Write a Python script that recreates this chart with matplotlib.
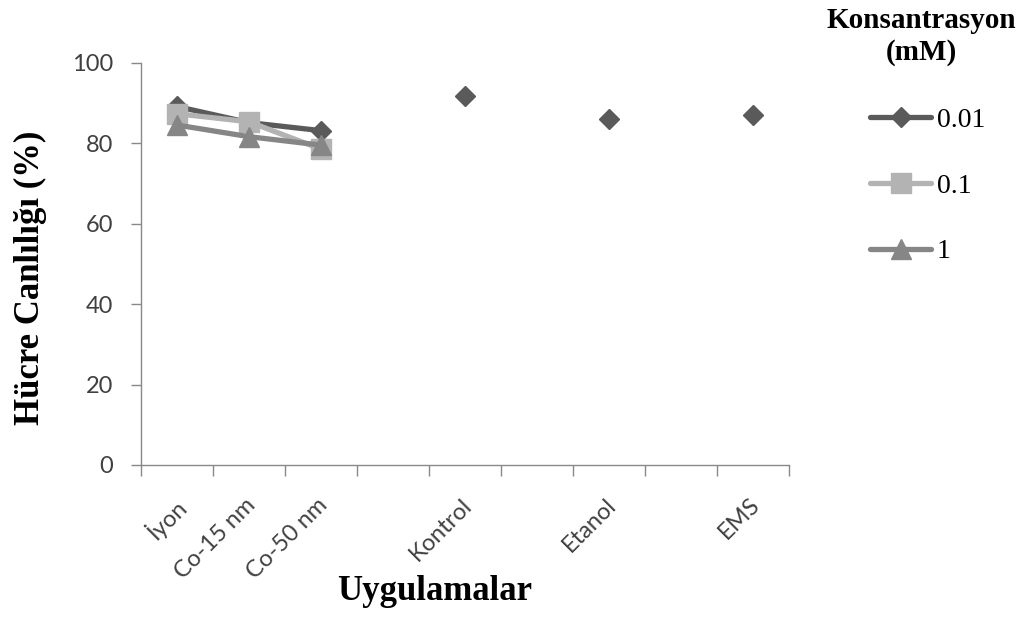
import numpy as np
import matplotlib
matplotlib.use("Agg")
import matplotlib.pyplot as plt
from matplotlib.transforms import ScaledTranslation

# data
categories = ['İyon', 'Co-15 nm', 'Co-50 nm', '', 'Kontrol', '', 'Etanol', '', 'EMS']
nan = np.nan
conc_001 = [89.1, 85.1, 83.1, nan, 91.8, nan, 86.0, nan, 87.0]
conc_01 = [87.3, 85.3, 78.5, nan, nan, nan, nan, nan, nan]
conc_1 = [84.5, 81.6, 79.5, nan, nan, nan, nan, nan, nan]
series_names = ['0.01', '0.1', '1']

tick_font = 'Lato'
serif = 'Liberation Serif'
axis_gray = '#898989'
text_gray = '#404040'

fig = plt.figure(figsize=(10.32, 6.19), dpi=100)
ax = fig.add_axes([0.1366, 0.2488, 0.628, 0.650])

x = np.arange(len(categories))
l1, = ax.plot(x, conc_001, color='#5a5a5a', lw=3.8, marker='D', ms=10.5,
              label=series_names[0], solid_capstyle='round')
l2, = ax.plot(x, conc_01, color='#b3b3b3', lw=3.8, marker='s', ms=15,
              label=series_names[1], solid_capstyle='round')
l3, = ax.plot(x, conc_1, color='#868686', lw=3.8, marker='^', ms=14.5,
              label=series_names[2], solid_capstyle='round')

ax.set_xlim(-0.5, len(categories) - 0.5)
ax.set_ylim(0, 100)
ax.set_yticks(range(0, 101, 20))

for s in ['top', 'right']:
    ax.spines[s].set_visible(False)
for s in ['left', 'bottom']:
    ax.spines[s].set_color(axis_gray)
    ax.spines[s].set_linewidth(1.0)

ax.tick_params(axis='y', direction='out', length=7, width=1.0, color=axis_gray,
               pad=13, labelsize=17, labelcolor=text_gray)
for lab in ax.get_yticklabels():
    lab.set_fontfamily(tick_font)

# category boundaries get the tick marks, labels sit in the middle
ax.set_xticks(np.arange(-0.5, len(categories), 1.0), minor=True)
ax.tick_params(axis='x', which='minor', direction='out', length=8, width=1.0, color=axis_gray)
ax.set_xticks(x)
ax.set_xticklabels(categories)
ax.tick_params(axis='x', which='major', length=0, pad=21, labelsize=17, labelcolor=text_gray)
shift = ScaledTranslation(-4 / 100, 0, fig.dpi_scale_trans)
for lab in ax.get_xticklabels():
    lab.set_fontfamily(tick_font)
    lab.set_rotation(45)
    lab.set_ha('right')
    lab.set_va('top')
    lab.set_rotation_mode('anchor')
    lab.set_transform(lab.get_transform() + shift)

fig.text(30 / 1032, 1 - 278 / 619, 'Hücre Canlılığı (%)', rotation=90, ha='center', va='center',
         fontsize=25, fontweight='bold', family=serif)
fig.text(435 / 1032, 1 - 600 / 619, 'Uygulamalar', ha='center', va='baseline',
         fontsize=25, fontweight='bold', family=serif)

fig.text(921 / 1032, 1 - 20 / 619, 'Konsantrasyon', ha='center', va='center',
         fontsize=21, fontweight='bold', family=serif)
fig.text(921 / 1032, 1 - 53 / 619, '(mM)', ha='center', va='center',
         fontsize=21, fontweight='bold', family=serif)

fig.legend(handles=[l1, l2, l3], loc='center left', bbox_to_anchor=(870 / 1032, 1 - 186 / 619),
           frameon=False, numpoints=1, handlelength=2.2, handletextpad=0.2,
           labelspacing=1.45, borderpad=0, borderaxespad=0,
           prop={'family': serif, 'size': 20})

fig.savefig('out.png', dpi=100, facecolor='white')
